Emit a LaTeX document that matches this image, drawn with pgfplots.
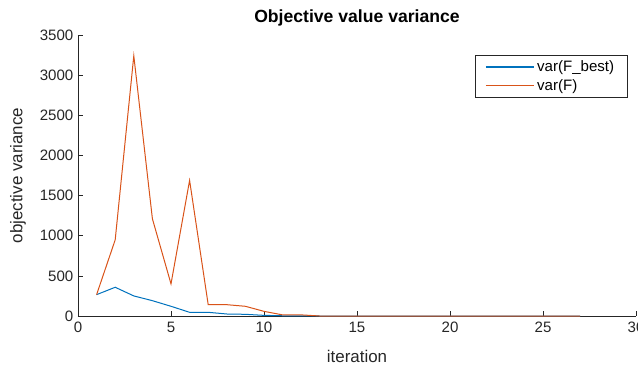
\documentclass[border=0pt]{standalone}
\usepackage{fontspec}
\setmainfont{Liberation Sans}
\usepackage{pgfplots}
\pgfplotsset{compat=1.18}
\definecolor{mblue}{rgb}{0,0.447,0.741}
\definecolor{morange}{rgb}{0.85,0.325,0.098}
\definecolor{axgray}{rgb}{0.15,0.15,0.15}
\begin{document}
\begin{tikzpicture}
\begin{axis}[
  scale only axis, width=418.5pt, height=210.75pt,
  at={(0pt,0pt)}, anchor=south west,
  xmin=0, xmax=30, ymin=0, ymax=3500,
  axis x line*=bottom, axis y line*=left,
  x axis line style={-, axgray}, y axis line style={-, axgray},
  xtick={0,5,...,30}, ytick={0,500,...,3500},
  tick align=inside, major tick length=3.75pt,
  tick style={axgray, thin},
  /pgf/number format/assume math mode=true,
  /pgf/number format/1000 sep={},
  ticklabel style={font=\fontsize{11.3}{13}\selectfont, text=axgray},
  xticklabel style={yshift=-1pt},
  xlabel={iteration}, ylabel={objective variance},
  every axis x label/.style={at={(axis description cs:0.5,0)}, anchor=center, yshift=-30pt, font=\fontsize{12.7}{15}\selectfont, text=axgray},
  every axis y label/.style={at={(axis description cs:0,0.5)}, anchor=center, rotate=90, yshift=45pt, font=\fontsize{12.7}{15}\selectfont, text=axgray},
  title={\bfseries Objective value variance},
  every axis title/.style={at={(axis description cs:0.5,1)}, anchor=center, yshift=13pt, font=\fontsize{13.2}{15}\selectfont},
  legend style={at={(0.984,0.929)}, anchor=north east, draw=axgray, font=\fontsize{11.3}{13}\selectfont, inner xsep=7.5pt, inner ysep=2pt, row sep=0.4pt, cells={anchor=west}},
  legend image code/.code={\draw[#1, line width=1pt] (0pt,0pt) -- (36pt,0pt);},
]
\addplot[draw=mblue, line width=0.75pt] coordinates {
(1,266) (2,358) (3,250) (4,191) (5,121) (6,46) (7,46) (8,25) (9,21) (10,8) (11,3) (12,2)
(13,0) (14,0) (15,0) (16,0) (17,0) (18,0) (19,0) (20,0) (21,0) (22,0) (23,0) (24,0) (25,0) (26,0) (27,0)};
\addlegendentry{var(F\_best)}
\addplot[draw=morange, line width=0.75pt] coordinates {
(1,266) (2,949) (3,3241) (4,1211) (5,400) (6,1689) (7,141) (8,141) (9,121) (10,58) (11,14) (12,14)
(13,0) (14,0) (15,0) (16,0) (17,0) (18,0) (19,0) (20,0) (21,0) (22,0) (23,0) (24,0) (25,0) (26,0) (27,0)};
\addlegendentry{var(F)}
\end{axis}
\pgfresetboundingbox
\path[use as bounding box] (-58.5pt,-39.75pt) rectangle (420pt,237pt);
\end{tikzpicture}
\end{document}
